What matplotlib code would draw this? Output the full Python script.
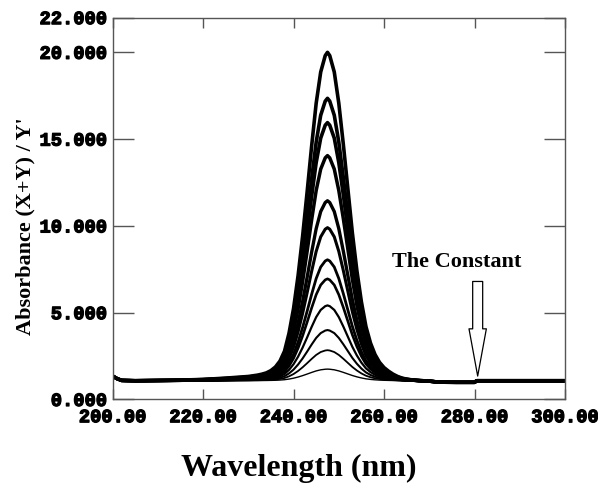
import matplotlib
matplotlib.use("Agg")
import matplotlib.pyplot as plt
import matplotlib.patheffects as pe
import numpy as np

# Wavelength grid (nm) of the recorded spectra
wavelengths = [200, 201, 202, 205, 210, 215, 220, 225, 228, 230, 232, 233, 234,
               235, 236, 237, 238, 239, 240, 241, 242, 243, 244, 245, 246, 247,
               247.5, 248, 249, 250, 251, 252, 253, 254, 255, 256, 257, 258, 259,
               260, 261, 262, 263, 264, 265, 266, 268, 270, 272, 276, 280, 280.5,
               285, 290, 295, 300]

# Shared band shape (fraction of the band height above the constant level)
band_shape = [0, 0, 0, 0, 0.001, 0.002, 0.004, 0.008, 0.011, 0.013, 0.017, 0.020,
              0.024, 0.031, 0.042, 0.060, 0.090, 0.145, 0.22, 0.32, 0.44, 0.575,
              0.715, 0.845, 0.94, 0.99, 1.0, 0.99, 0.94, 0.845, 0.72, 0.585, 0.45,
              0.335, 0.24, 0.165, 0.115, 0.08, 0.056, 0.04, 0.029, 0.02, 0.013,
              0.008, 0.005, 0.003, 0.001, 0, 0, 0, 0, 0, 0, 0, 0, 0]

# Constant level of the ratio spectra
constant_level = [1.35, 1.2, 1.1, 1.08, 1.08, 1.08, 1.08, 1.08, 1.08, 1.08, 1.08,
                  1.08, 1.08, 1.08, 1.08, 1.08, 1.08, 1.08, 1.08, 1.08, 1.08,
                  1.08, 1.08, 1.08, 1.08, 1.08, 1.08, 1.08, 1.08, 1.08, 1.08,
                  1.08, 1.08, 1.08, 1.08, 1.08, 1.08, 1.08, 1.08, 1.08, 1.08,
                  1.08, 1.08, 1.08, 1.08, 1.08, 1.07, 1.06, 1.0, 0.99, 0.99,
                  1.08, 1.08, 1.08, 1.08, 1.08]

# Maximum of each ratio spectrum
peak_values = [20.0, 17.35, 15.95, 14.05, 11.45, 9.9, 8.05, 6.95, 5.42, 4.0, 2.84, 1.75]
line_widths = [2.6, 2.6, 2.6, 2.5, 2.4, 2.2, 2.0, 1.9, 1.6, 1.5, 1.3, 1.0]

x_ticks = [200, 220, 240, 260, 280, 300]
y_ticks = [0, 5, 10, 15, 20, 22]

wl = np.array(wavelengths, dtype=float)
shape = np.array(band_shape)
base = np.array(constant_level)
base_at_peak = base[wavelengths.index(247.5)]

fig = plt.figure(figsize=(5.98, 4.84), dpi=100)
ax = fig.add_axes([0.1883, 0.1746, 0.7565, 0.789])

for peak, lw in zip(peak_values, line_widths):
    ax.plot(wl, base + (peak - base_at_peak) * shape, color="black", lw=lw,
            solid_joinstyle="round")

ax.set_xlim(200, 300)
ax.set_ylim(0, 22)
ax.set_xticks(x_ticks)
ax.set_yticks(y_ticks)
ax.set_xticklabels([f"{v:.2f}" for v in x_ticks])
ax.set_yticklabels([f"{v:.3f}" for v in y_ticks])

spine_col = "#555555"
for s in ax.spines.values():
    s.set_color(spine_col)
    s.set_linewidth(1.0)

ax.tick_params(axis="x", direction="in", length=7, width=1, color=spine_col,
               top=True, bottom=True, pad=7)
ax.tick_params(axis="y", direction="in", length=15, width=1, color=spine_col,
               left=True, right=True, pad=4)
heavy = [pe.withStroke(linewidth=0.9, foreground="black")]
for lab in ax.get_xticklabels() + ax.get_yticklabels():
    lab.set_fontfamily("Liberation Mono")
    lab.set_fontweight("bold")
    lab.set_fontsize(13.5)
    lab.set_path_effects(heavy)

fig.text(0.5, 0.033, "Wavelength (nm)", ha="center", va="center",
         family="Liberation Serif", weight="bold", fontsize=23)
fig.text(0.042, 0.532, "Absorbance (X+Y) / Y'", ha="center", va="center",
         rotation=90, family="Liberation Serif", weight="bold", fontsize=16)

ax.text(276.1, 7.63, "The Constant", ha="center", va="baseline",
        family="Liberation Serif", weight="bold", fontsize=16)
ax.annotate("", xy=(280.7, 1.35), xytext=(280.7, 6.8),
            arrowprops=dict(arrowstyle="simple,head_length=3.4,head_width=1.25,tail_width=0.72",
                            fc="white", ec="black", lw=0.9, shrinkA=0, shrinkB=0,
                            mutation_scale=10))

fig.savefig("out.png", dpi=100)
